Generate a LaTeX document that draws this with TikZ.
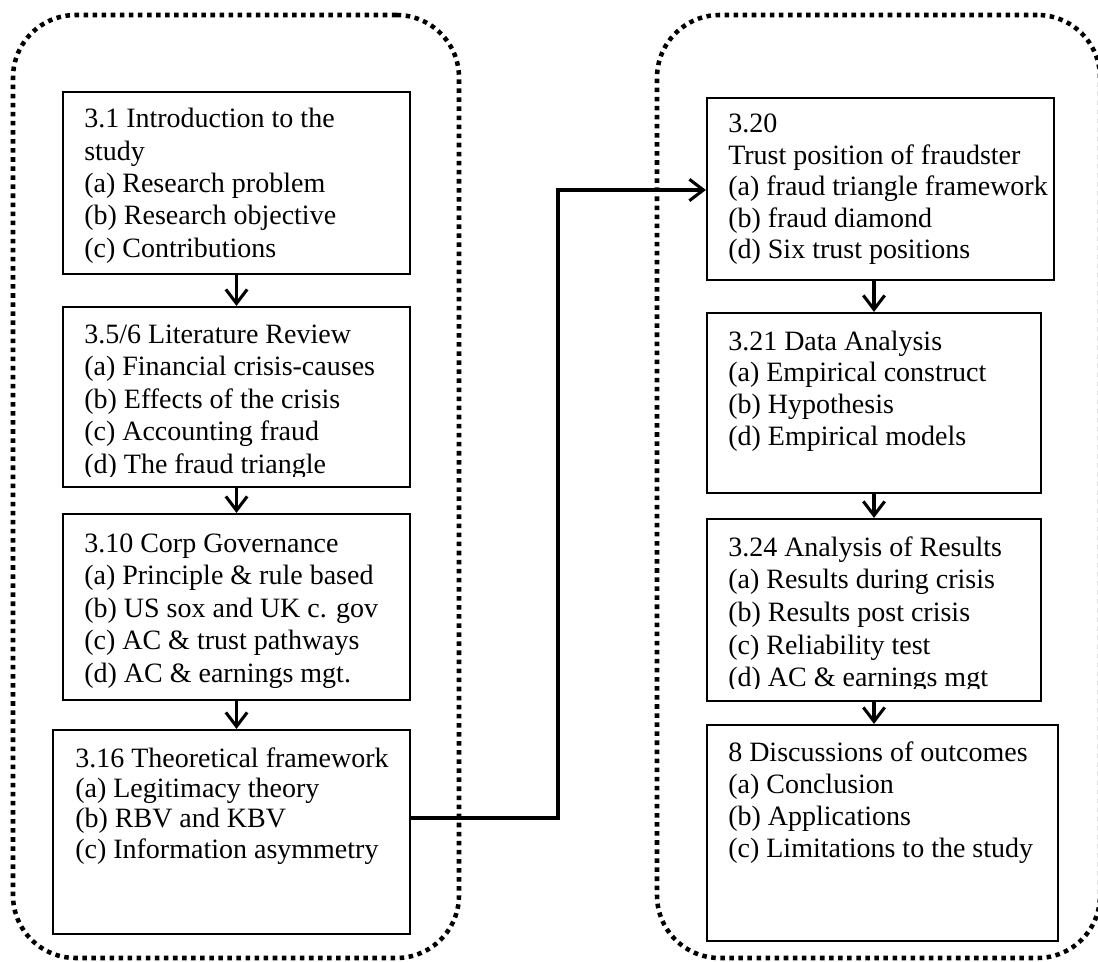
\documentclass[tikz,border=0pt]{standalone}
\usepackage{fontspec}
\setmainfont{Liberation Serif}
\usetikzlibrary{arrows.meta,fit}

% left-aligned block of lines; #1 = baseline skip, #2 = lines
\newcommand\stagelines[2]{\parbox[t]{14cm}{\fontsize{21}{#1}\selectfont\raggedright #2}}

\begin{document}
\begin{tikzpicture}[x=0.75pt,y=-0.75pt,
  stagebox/.style={draw, line width=1.6pt, inner sep=0pt},
  stagetext/.style={inner sep=0pt, anchor=base west},
  groupbox/.style={draw, line width=3.4pt, dash pattern=on 3.4pt off 3.4pt,
                   rounded corners=47pt, inner sep=0pt},
  flow/.style={line width=2.3pt, -{Straight Barb[length=10.5pt,width=16pt]}},
]
\useasboundingbox (0,0) rectangle (1098,962);

% dotted group outlines
\node[groupbox, fit={(13,15) (459,958)}] (leftgroup) {};
\node[groupbox, fit={(657,15) (1100,958)}] (rightgroup) {};

% stage boxes, left column
\node[stagebox, fit={(63,92) (410,274)}] (b1) {};
\node[stagebox, fit={(63,307) (410,487)}] (b2) {};
\node[stagebox, fit={(63,514) (410,700)}] (b3) {};
\node[stagebox, fit={(53,730) (410,934)}] (b4) {};

% stage boxes, right column
\node[stagebox, fit={(707,98) (1054,280)}] (r1) {};
\node[stagebox, fit={(707,313) (1041,493)}] (r2) {};
\node[stagebox, fit={(707,519) (1041,701)}] (r3) {};
\node[stagebox, fit={(707,725) (1058,941)}] (r4) {};

% box contents
\node[stagetext] (t1) at (84,128) {\stagelines{24.2pt}{3.1 Introduction to the\\ study\\ (a) Research problem\\ (b) Research objective\\ (c) Contributions}};
\begin{scope}
  \clip (63,307) rectangle (410,476);
  \node[stagetext] (t2) at (84,343) {\stagelines{24.4pt}{3.5/6 Literature Review\\ (a) Financial crisis-causes\\ (b) Effects of the crisis\\ (c) Accounting fraud\\ (d) The fraud triangle}};
\end{scope}
\node[stagetext] (t3) at (84,552) {\stagelines{24.4pt}{3.10 Corp Governance\\ (a) Principle \& rule based\\ (b) US sox and UK c. gov\\ (c) AC \& trust pathways\\ (d) AC \& earnings mgt.}};
\node[stagetext] (t4) at (75,767) {\stagelines{22.75pt}{3.16 Theoretical framework\\ (a) Legitimacy theory\\ (b) RBV and KBV\\ (c) Information asymmetry}};

\node[stagetext] (u1) at (728,133) {\stagelines{23.6pt}{3.20\\ Trust position of fraudster\\ (a) fraud triangle framework\\ (b) fraud diamond\\ (d) Six trust positions}};
\node[stagetext] (u2) at (728,350) {\stagelines{23.75pt}{3.21 Data Analysis\\ (a) Empirical construct\\ (b) Hypothesis\\ (d) Empirical models}};
\begin{scope}
  \clip (707,519) rectangle (1041,688);
  \node[stagetext] (u3) at (728,556) {\stagelines{24.5pt}{3.24 Analysis of Results\\ (a) Results during crisis\\ (b) Results post crisis\\ (c) Reliability test\\ (d) AC \& earnings mgt}};
\end{scope}
\node[stagetext] (u4) at (728,761) {\stagelines{24pt}{8 Discussions of outcomes\\ (a) Conclusion\\ (b) Applications\\ (c) Limitations to the study}};

% flow arrows
\draw[flow] (b1.south) -- (b2.north);
\draw[flow] (b2.south) -- (b3.north);
\draw[flow] (b3.south) -- (b4.north -| b3.south);

\draw[flow] (r1.south -| r2.north) -- (r2.north);
\draw[flow] (r2.south) -- (r3.north);
\draw[flow] (r3.south) -- (r4.north -| r3.south);

% link between the two columns
\coordinate (turnlow) at (558,818);
\coordinate (turnhigh) at (558,190);
\draw[flow] (b4.east |- turnlow) -- (turnlow) -- (turnhigh) -- (r1.west |- turnhigh);
\end{tikzpicture}
\end{document}
